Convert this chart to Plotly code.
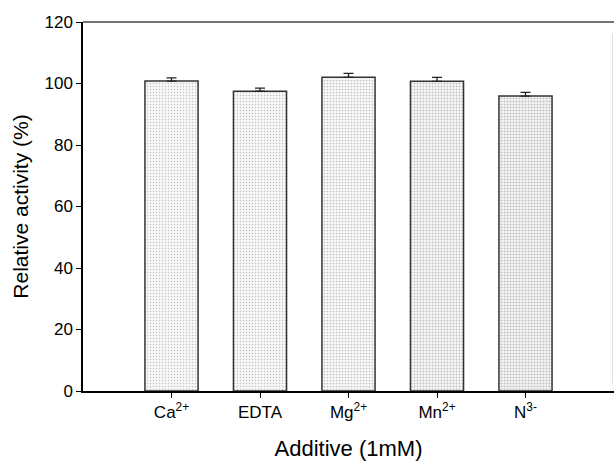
import plotly.graph_objects as go

categories = ["Ca<sup>2+</sup>", "EDTA", "Mg<sup>2+</sup>", "Mn<sup>2+</sup>", "N<sup>3-</sup>"]
activity = [100.8, 97.5, 102.0, 100.7, 95.9]
errors = [1.0, 1.0, 1.3, 1.3, 1.2]
y_ticks = [0, 20, 40, 60, 80, 100, 120]

FONT = "Liberation Sans, Arial, sans-serif"

fig = go.Figure()
fig.add_trace(go.Bar(
    x=categories,
    y=activity,
    width=0.6,
    marker=dict(
        color="#f6f6f6",
        line=dict(color="#333333", width=1.5),
        pattern=dict(
            shape=".",
            fgcolor="#8a8a8a",
            bgcolor="#f7f7f7",
            size=3,
            solidity=[0.18, 0.2, 0.25, 0.3, 0.38],
        ),
    ),
    error_y=dict(
        type="data",
        symmetric=False,
        array=errors,
        arrayminus=[0] * len(errors),
        color="#222222",
        thickness=1.3,
        width=5,
    ),
    showlegend=False,
))

fig.update_layout(
    width=614,
    height=461,
    margin=dict(l=83, r=0, t=22, b=70),
    paper_bgcolor="white",
    plot_bgcolor="white",
    font=dict(family=FONT, size=17, color="black"),
    bargap=0.4,
    xaxis=dict(
        type="category",
        range=[-1, 5],
        automargin=False,
        showline=True,
        linecolor="black",
        linewidth=1.5,
        ticks="outside",
        ticklen=5,
        tickwidth=1,
        tickcolor="black",
        showgrid=False,
        zeroline=False,
        tickfont=dict(family=FONT, size=17),
        title=dict(text="Additive (1mM)", font=dict(family=FONT, size=22), standoff=20),
    ),
    yaxis=dict(
        range=[0, 120],
        tickvals=y_ticks,
        automargin=False,
        showline=True,
        linecolor="black",
        linewidth=1.5,
        ticks="outside",
        ticklen=5,
        tickwidth=1,
        tickcolor="black",
        showgrid=False,
        zeroline=False,
        tickfont=dict(family=FONT, size=17),
        title=dict(text="Relative activity (%)", font=dict(family=FONT, size=21), standoff=10),
    ),
    shapes=[
        dict(type="line", xref="paper", yref="paper", x0=0, x1=1, y0=1, y1=1,
             line=dict(color="#444444", width=1.5)),
        dict(type="line", xref="paper", yref="paper", x0=0.997, x1=0.997, y0=0.02, y1=0.97,
             line=dict(color="#dddddd", width=1)),
    ],
)

fig.write_html("out.html", config={"displayModeBar": False})

with open("out.html", "r", encoding="utf-8") as f:
    html = f.read()
html = html.replace("<head>", "<head><style>html,body{margin:0;padding:0;overflow:hidden;}</style>", 1)
with open("out.html", "w", encoding="utf-8") as f:
    f.write(html)
